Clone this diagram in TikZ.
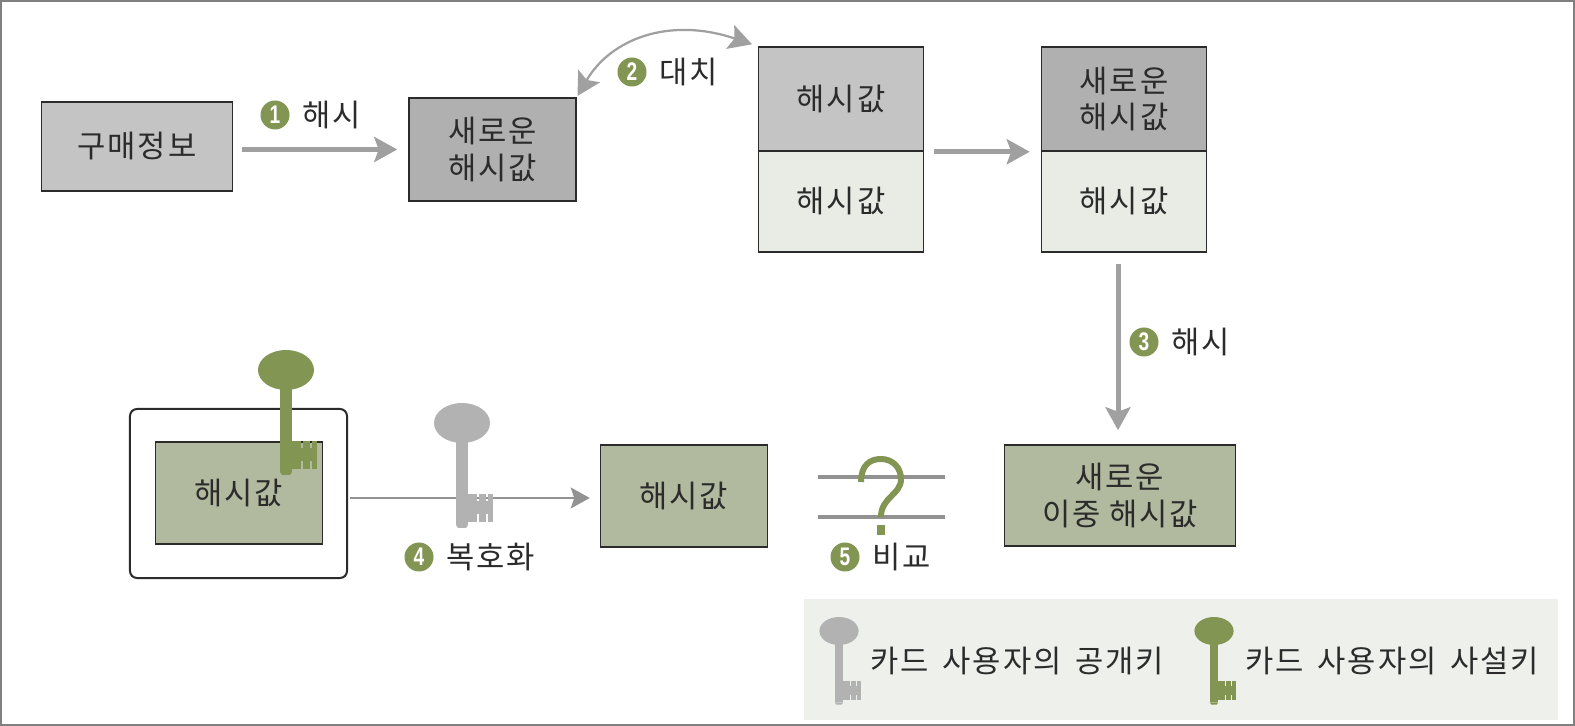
\documentclass[tikz,border=0pt]{standalone}
\usepackage{fontspec}
\usepackage{xcolor}
\usepackage{tikz}
\usetikzlibrary{positioning,arrows.meta,shapes.geometric}
\setmainfont{Noto Sans CJK KR}[LetterSpace=6]
\newfontfamily\legendfont{Noto Sans CJK KR}[LetterSpace=6,WordSpace=1.6]
\newfontfamily\digitfont{Liberation Sans}[FakeStretch=0.75]
\definecolor{FrameGray}{HTML}{808080}
\definecolor{ArrowGray}{HTML}{A0A0A0}
\definecolor{LineGray}{HTML}{929292}
\definecolor{KeyGray}{HTML}{B2B2B2}
\definecolor{KeyGreen}{HTML}{839552}
\definecolor{InkDark}{HTML}{2B2B2B}
\definecolor{PlainGray}{HTML}{C4C4C4}
\definecolor{DarkGray}{HTML}{B0B0B0}
\definecolor{PaleGreen}{HTML}{E9ECE5}
\definecolor{SageGreen}{HTML}{B1BA9F}
\definecolor{LegendBack}{HTML}{EEF0EC}
\tikzset{
  hashbox/.style={
    draw=InkDark,line width=0.3mm,inner sep=0pt,
    minimum width=33.4mm,minimum height=20.4mm,
    font=\fontsize{17.5}{20.5}\selectfont,text=InkDark,align=center
  },
  stepnum/.style={
    circle,fill=KeyGreen,minimum size=5.8mm,inner sep=0pt,
    font=\digitfont\fontsize{14.5}{15}\selectfont\bfseries,text=white
  },
  steptext/.style={font=\fontsize{17.5}{20}\selectfont,text=InkDark,inner sep=0pt},
  legendtext/.style={
    font=\legendfont\fontsize{17.5}{20}\selectfont,
    text=InkDark,inner sep=0pt,anchor=west
  },
  fatarrow/.style={
    draw=ArrowGray,line width=1mm,
    -{Stealth[length=4.6mm,width=5mm,inset=0.9mm]}
  },
  keyicon/.pic={
    \path[pic actions] (0,0) ellipse [x radius=5.6mm,y radius=4mm];
    \path[pic actions] (-6,15) rectangle (6,102);
    \path[pic actions] (-6,102) -- (-4,105) -- (4,105) -- (6,102) -- cycle;
    \path[pic actions] (6,71) rectangle (15,99);
    \path[pic actions] (17,71) rectangle (24,99);
    \path[pic actions] (26,71) rectangle (31,99);
    \path[pic actions] (6,78) rectangle (31,91);
  },
}
\begin{document}
\begin{tikzpicture}[x=0.2mm,y=-0.2mm]
  \useasboundingbox (0,0) rectangle (1575,726);
  \draw[line width=0.4mm, draw=FrameGray] (1,1) rectangle (1574,725);
  % Top row
  \node[hashbox, fill=PlainGray, minimum width=38.2mm, minimum height=17.8mm] (buyinfo) at (137,146.5) {구매정보};
  \node[hashbox, fill=DarkGray, minimum height=20.6mm] (newhash) at (492.5,149.5) {새로운\\해시값};
  \node[hashbox, fill=PlainGray, minimum width=33mm, minimum height=20.8mm] (oldtop) at (841,99) {해시값};
  \node[hashbox, fill=PaleGreen, minimum width=33mm, minimum height=20.2mm] (oldbot) at (841,201.5) {해시값};
  \node[hashbox, fill=DarkGray, minimum width=33mm, minimum height=20.8mm] (newtop) at (1124,99) {새로운\\해시값};
  \node[hashbox, fill=PaleGreen, minimum width=33mm, minimum height=20.2mm] (newbot) at (1124,201.5) {해시값};
  \draw[fatarrow, shorten <=1.8mm, shorten >=2.2mm] (buyinfo.east |- newhash.west) -- (newhash.west);
  \draw[fatarrow, shorten <=2mm, shorten >=2.2mm] (oldtop.south east) -- (newtop.south west);
  \draw[draw=ArrowGray, line width=0.45mm, {Stealth[length=4.6mm,width=5mm,inset=0.9mm]}-{Stealth[length=4.6mm,width=5mm,inset=0.9mm]}, shorten <=0.3mm, shorten >=1.2mm]
    (newhash.north east) .. controls (610,40) and (668,16) .. (oldtop.north west);
  \node[stepnum] (numone) at (275,115) {1};
  \node[steptext, right=2.4mm of numone] (txtone) {해시};
  \node[stepnum] (numtwo) at (632,72) {2};
  \node[steptext, right=2.4mm of numtwo] (txttwo) {대치};
  % Bottom row
  \node[hashbox, fill=SageGreen, minimum width=46.2mm, minimum height=20.2mm] (newdouble) at (1120,495.5) {새로운\\이중 해시값};
  \node[hashbox, fill=SageGreen] (plainhash) at (684,496) {해시값};
  \node[draw=InkDark, line width=0.4mm, rounded corners=1.4mm, minimum width=43.4mm, minimum height=33.8mm, inner sep=0pt] (signcard) at (238.5,493.5) {};
  \node[hashbox, fill=SageGreen] (signhash) at (239,493) {해시값};
  \draw[fatarrow, shorten >=2.8mm] ([xshift=-1.2mm]newbot.south |- 0,264) coordinate (downstart) -- (downstart |- newdouble.north);
  \pic[fill=KeyGreen] at (286,370) {keyicon};
  \draw[draw=LineGray, line width=0.25mm, -{Stealth[length=3.8mm,width=4.2mm,inset=0.7mm]}, shorten <=0.4mm, shorten >=2mm] ([yshift=-0.4mm]signcard.east |- plainhash.west) -- ([yshift=-0.4mm]plainhash.west);
  \pic[fill=KeyGray] at (462,423) {keyicon};
  \node[stepnum] (numthree) at (1144,342) {3};
  \node[steptext, right=2.4mm of numthree] (txtthree) {해시};
  \node[stepnum] (numfour) at (419,557) {4};
  \node[steptext, right=2.4mm of numfour] (txtfour) {복호화};
  % Question between the two values
  \draw[draw=LineGray, line width=0.8mm] (818,477) -- (945,477);
  \draw[draw=LineGray, line width=0.8mm] (818,517) -- (945,517);
  \draw[draw=KeyGreen, line width=1.2mm] (861,482) .. controls (861,465) and (870,459) .. (881,459) .. controls (893,459) and (901,468) .. (901,479) .. controls (901,495) and (881,497) .. (881,517);
  \fill[KeyGreen] (877,525) rectangle (885,535);
  \node[stepnum] (numfive) at (845,557) {5};
  \node[steptext, right=2.4mm of numfive] (txtfive) {비교};
  % Legend
  \fill[LegendBack] (804,599) rectangle (1558,720);
  \pic[fill=KeyGray, scale=0.7] at (839,631) {keyicon};
  \pic[fill=KeyGreen, scale=0.7] at (1214,631) {keyicon};
  \node[legendtext] (pubkey) at (870,661) {카드 사용자의 공개키};
  \node[legendtext] (privkey) at (1245,661) {카드 사용자의 사설키};
\end{tikzpicture}
\end{document}
